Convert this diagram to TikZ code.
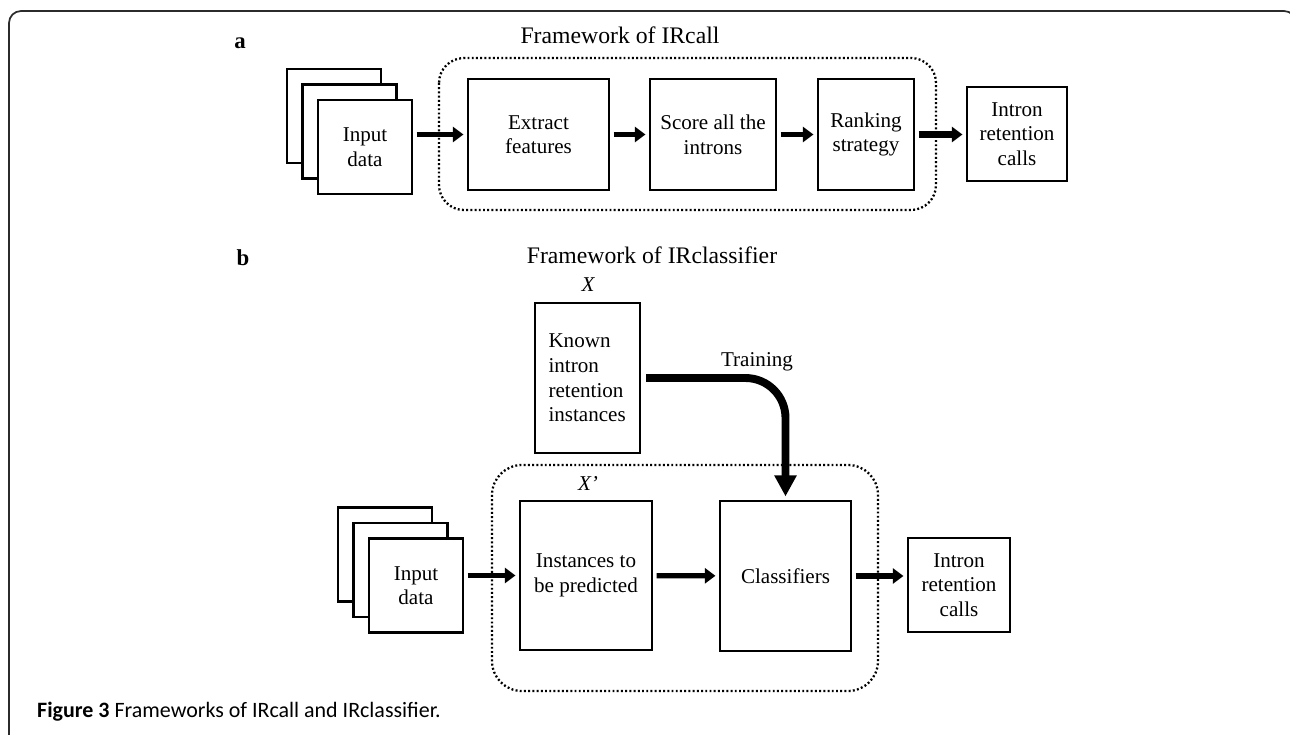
\documentclass[tikz,border=0pt]{standalone}
\usepackage{fontspec}
\setmainfont{Liberation Serif}
\newfontfamily\capfont{Carlito}
\usetikzlibrary{arrows.meta}
\definecolor{framegray}{HTML}{2b2b2b}
\def\pxsize{0.02cm}
\def\sheetgap{15.5}
\newcommand{\inputsheets}[3]{
  \foreach \k in {2,1} {
    \draw[sheet] (#2-\sheetgap*\k-47, #3-\sheetgap*\k-47) rectangle ++(94,94);
  }
  \node[sheet, minimum width=1.88cm, minimum height=1.88cm] (#1) at (#2,#3) {Input\\data};
}
\tikzset{
  sheet/.style={draw, line width=1.2pt, fill=white, align=center, inner sep=1pt,
    font=\fontsize{12}{14}\selectfont},
  box/.style={sheet},
  fwbox/.style={draw, line width=1.3pt, dash pattern=on 1.1pt off 1.3pt},
  flow/.style={line width=3pt, -{Triangle[length=6pt,width=8.5pt]},
    shorten <=2pt, shorten >=2pt},
  outflow/.style={flow, line width=3.8pt},
  train/.style={line width=4.5pt, -{Triangle[length=12pt,width=12pt]},
    rounded corners=0.8cm, shorten <=3pt, shorten >=2pt},
  title/.style={font=\fontsize{13.5}{15}\selectfont},
  panel/.style={font=\bfseries\fontsize{13}{15}\selectfont},
  tag/.style={font=\itshape\fontsize{12}{14}\selectfont}
}
\begin{document}
\begin{tikzpicture}[x=\pxsize, y=-\pxsize]
  \useasboundingbox (0,0) rectangle (1290,734);
  \clip (0,0) rectangle (1290,734);
  \draw[framegray, line width=1pt, rounded corners=0.24cm] (9,745) -- (9,11) -- (1296,11) -- (1296,745);

  % a
  \node[panel] (lbla) at (240,43) {a};
  \node[title] (titlea) at (620,35) {Framework of IRcall};
  \draw[fwbox, rounded corners=0.5cm] (439,58) rectangle (936,210);
  \inputsheets{ina}{365}{147}
  \node[box, minimum width=2.82cm, minimum height=2.22cm] (extract) at (538.5,134.5) {Extract\\features};
  \node[box, minimum width=2.52cm, minimum height=2.22cm] (score) at (713,134.5) {Score all the\\introns};
  \node[box, minimum width=1.92cm, minimum height=2.22cm] (rank) at (866,134.5) {Ranking\\strategy};
  \node[box, minimum width=2.0cm, minimum height=1.88cm] (outa) at (1017,134) {Intron\\retention\\calls};
  \draw[flow] (ina.east |- extract) -- (extract);
  \draw[flow] (extract) -- (score);
  \draw[flow] (score) -- (rank);
  \draw[outflow] (rank) -- (outa.west |- rank);

  % b
  \node[panel] (lblb) at (243,258) {b};
  \node[title] (titleb) at (652,255) {Framework of IRclassifier};
  \draw[fwbox, rounded corners=0.6cm] (492,465) rectangle (878,691);
  \node[tag] (xknown) at (588,285) {X};
  \node[box, align=left, text width=1.56cm, inner xsep=0.265cm, minimum height=3cm] (known) at (587.5,378) {Known\\intron\\retention\\instances};
  \node[tag] (xnew) at (588,483) {X’};
  \inputsheets{inb}{416}{585.5}
  \node[box, minimum width=2.64cm, minimum height=2.98cm] (inst) at (586,575.5) {Instances to\\be predicted};
  \node[box, minimum width=2.62cm, minimum height=3cm] (cls) at (785.5,576) {Classifiers};
  \node[box, minimum width=2.04cm, minimum height=1.88cm] (outb) at (959,585) {Intron\\retention\\calls};
  \node[font=\fontsize{12}{14}\selectfont] (trainlbl) at (757,362) {Training};
  \draw[train] (known.east) -- (known.east -| cls.north) -- (cls.north);
  \draw[flow] (inb.east |- inst) -- (inst);
  \draw[flow] (inst) -- (cls);
  \draw[outflow] (cls) -- (outb.west |- cls);

  \node[anchor=west, font=\capfont\fontsize{12.5}{14}\selectfont] (caption) at (31,712) {\textbf{Figure 3} Frameworks of IRcall and IRclassifier.};
\end{tikzpicture}
\end{document}
